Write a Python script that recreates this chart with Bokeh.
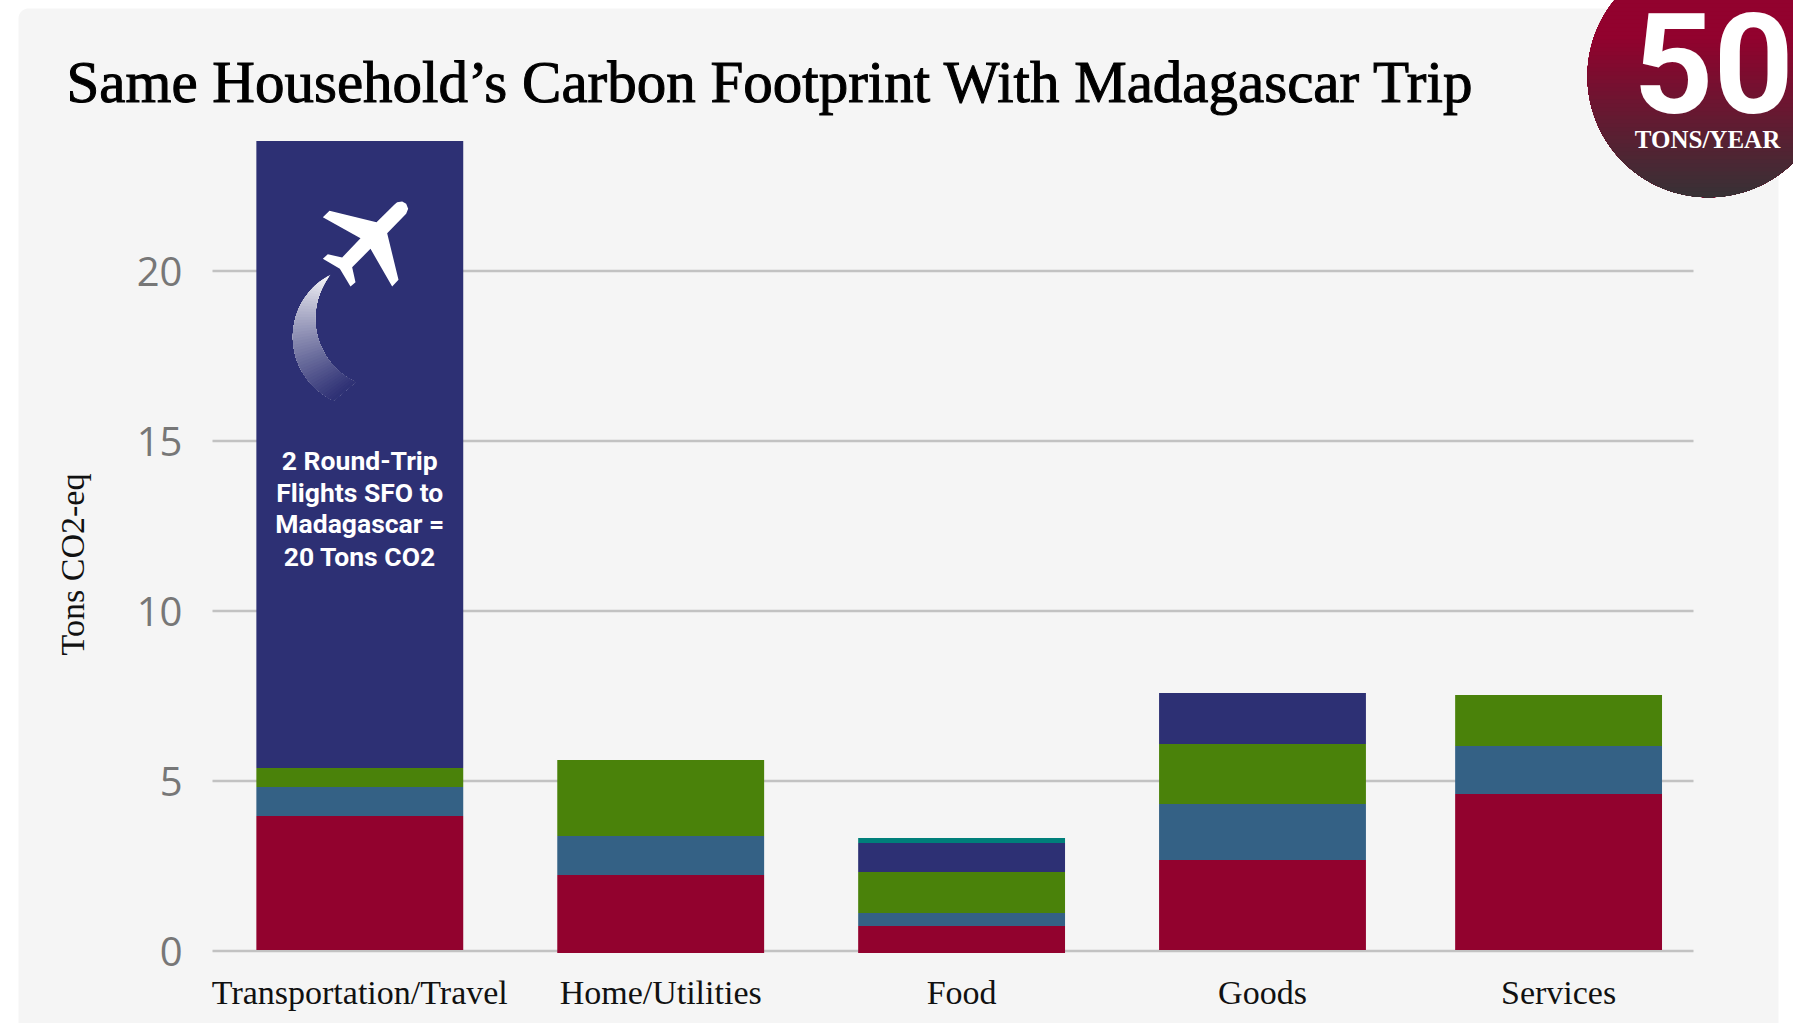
import numpy as np
from bokeh.core.properties import value
from bokeh.embed import file_html
from bokeh.models import FixedTicker, Range1d, ColumnDataSource
from bokeh.plotting import figure
from bokeh.resources import INLINE

title_text = "Same Household\u2019s Carbon Footprint With Madagascar Trip"
y_title = "Tons CO2-eq"
categories = ["Transportation/Travel", "Home/Utilities", "Food", "Goods", "Services"]
y_ticks = [0, 5, 10, 15, 20]
crimson = [3.97, 2.235, 0.735, 2.68, 4.62]
steel = [0.85, 1.145, 0.385, 1.64, 1.41]
green = [0.56, 2.24, 1.20, 1.77, 1.50]
navy = [18.44, 0.0, 0.86, 1.50, 0.0]
teal = [0.0, 0.0, 0.14, 0.0, 0.0]
note_lines = ["2 Round-Trip", "Flights SFO to", "Madagascar =", "20 Tons CO2"]

W, H = 1793, 1023
slots = [0.0, 1.0, 2.0, 3.0, 3.984]
PX = 300.9
C0 = 359.3
GRID_L, GRID_R, AXIS_B = 212, 1693, 956
ZERO_Y, UNIT = 950.5, 34.0

def dx(px): return (px - C0) / PX
def dy(py): return (ZERO_Y - py) / UNIT

p = figure(width=W, height=H, output_backend="svg", toolbar_location=None,
           x_range=Range1d(dx(0), dx(W)), y_range=Range1d(dy(H), dy(0)),
           min_border=0, background_fill_color="white", border_fill_color="white",
           outline_line_color=None)
p.extra_x_ranges["px"] = Range1d(0, W)
p.extra_y_ranges["px"] = Range1d(H, 0)
PXR = dict(x_range_name="px", y_range_name="px")

def decor_patch(xs, ys, color):
    p.patch(x=list(xs), y=list(ys), fill_color=color, line_color=None, **PXR)

# rounded page panel behind the chart
arc = np.linspace(np.pi, 1.5 * np.pi, 12)
decor_patch(np.r_[18 + 10 + 10 * np.cos(arc), 1778, 1778, 18],
            np.r_[8 + 10 + 10 * np.sin(arc), 8, H, H], "#f5f5f5")

p.xgrid.visible = False
p.ygrid.visible = False
p.segment(x0=[dx(GRID_L)] * 5, x1=[dx(GRID_R)] * 5, y0=y_ticks, y1=y_ticks,
          line_color="#c2c2c2", line_width=2.7)

ax = p.yaxis[0]
ax.fixed_location = dx(GRID_L)
ax.ticker = FixedTicker(ticks=y_ticks)
ax.axis_line_color = None
ax.major_tick_line_color = None
ax.minor_tick_line_color = None
ax.major_label_standoff = 24
ax.major_label_text_font = "Open Sans"
ax.major_label_text_font_size = "40px"
ax.major_label_text_color = "#777777"

bx = p.xaxis[0]
bx.fixed_location = dy(AXIS_B)
bx.ticker = FixedTicker(ticks=slots)
bx.major_label_overrides = {s: c for s, c in zip(slots, categories)}
bx.axis_line_color = None
bx.major_tick_line_color = None
bx.minor_tick_line_color = None
bx.major_label_standoff = 11
bx.major_label_text_font = "Liberation Serif"
bx.major_label_text_font_size = "34px"
bx.major_label_text_color = "#111111"

floors = [0.03, -0.06, -0.06, 0.03, 0.03]
colors = ["#92022e", "#346185", "#4a820a", "#2d3074", "#007f7a"]
running = np.zeros(5)
for i, (vals, col) in enumerate(zip([crimson, steel, green, navy, teal], colors)):
    top = running + np.array(vals)
    bottom = np.array(floors) if i == 0 else running.copy()
    src = ColumnDataSource(dict(x=slots, top=top, bottom=bottom))
    p.vbar(x="x", top="top", bottom="bottom", width=0.6875, source=src,
           fill_color=col, line_color=None)
    running = top

def px_text(text, x, y, font, size, color, style="normal", align="center", angle=0.0, **kw):
    p.text(x=[x], y=[y], text=[text], text_font=value(font), text_font_size=size,
           text_font_style=style, text_color=color, text_align=align,
           text_baseline="middle", angle=angle, **PXR, **kw)

for line, y in zip(note_lines, [460, 492, 523, 556]):
    px_text(line, 359.3, y, "Roboto", "26.5px", "white", style="bold")

px_text(title_text, 66, 81, "Liberation Serif", "59px", "#000000", align="left",
        text_outline_color="#000000")
px_text(y_title, 72, 564, "Liberation Serif", "34px", "#111111", angle=np.pi / 2)

# badge with vertical gradient
R, BX, BY = 121.0, 1708.0, 75.7
c_top = np.array([0x92, 0x02, 0x2e]); c_bot = np.array([0x36, 0x33, 0x36])
for y in np.arange(BY - R, BY + R, 4.0):
    th0 = np.arcsin(np.clip((y - BY) / R, -1, 1))
    th = np.linspace(th0, np.pi - th0, 80)
    t = np.clip((y - 35) / (197 - 35), 0, 1)
    col = "#%02x%02x%02x" % tuple(int(v) for v in c_top + (c_bot - c_top) * t)
    decor_patch(BX + R * np.cos(th), BY + R * np.sin(th), col)

px_text("50", 1713, 62, "Roboto", "140px", "white", style="bold")
px_text("TONS/YEAR", 1707, 139, "Liberation Serif", "25px", "white", style="bold")

plane = [(408,275),(462,222),(470,215),(485,213),(497,220),(503,235),(497,250),(440,308),(474,448),(455,468),
         (390,355),(335,410),(345,455),(330,468),(298,415),(247,385),(262,371),(305,381),(360,323),(247,260),(267,241)]
def icon(pts):
    a = np.array(pts, dtype=float)
    return 240 + a[:, 0] / 3, 130 + a[:, 1] / 3
decor_patch(*icon(plane), "white")

def arc3(a, b, c, n):
    # circular arc through three points
    ax_, ay_, bx_, by_, cx_, cy_ = *a, *b, *c
    d = 2 * (ax_ * (by_ - cy_) + bx_ * (cy_ - ay_) + cx_ * (ay_ - by_))
    ux = ((ax_**2 + ay_**2) * (by_ - cy_) + (bx_**2 + by_**2) * (cy_ - ay_) + (cx_**2 + cy_**2) * (ay_ - by_)) / d
    uy = ((ax_**2 + ay_**2) * (cx_ - bx_) + (bx_**2 + by_**2) * (ax_ - cx_) + (cx_**2 + cy_**2) * (bx_ - ax_)) / d
    r = np.hypot(ax_ - ux, ay_ - uy)
    t0 = np.arctan2(ay_ - uy, ax_ - ux); t1 = np.arctan2(cy_ - uy, cx_ - ux)
    tb = np.arctan2(by_ - uy, bx_ - ux)
    for t_end in (t1, t1 + 2 * np.pi, t1 - 2 * np.pi):
        ts = np.linspace(t0, t_end, 400)
        if np.min(np.abs(((ts - tb + np.pi) % (2 * np.pi)) - np.pi)) < 0.02 and abs(t_end - t0) < 2 * np.pi:
            break
    ts = np.linspace(t0, t_end, n + 1)
    return np.c_[ux + r * np.cos(ts), uy + r * np.sin(ts)]

n = 50
O = arc3((270, 433), (158, 600), (280, 810), n)
I = arc3((270, 433), (225, 580), (345, 755), n)
navy_rgb = np.array([0x2d, 0x30, 0x74]); white = np.array([255, 255, 255])
for k in range(n):
    a = 0.97 * (1 - k / n) ** 1.15
    col = "#%02x%02x%02x" % tuple(int(v) for v in navy_rgb + (white - navy_rgb) * a)
    decor_patch(*icon(np.r_[O[k:], I[k:][::-1]]), col)

open("out.html", "w").write(file_html(p, INLINE))
